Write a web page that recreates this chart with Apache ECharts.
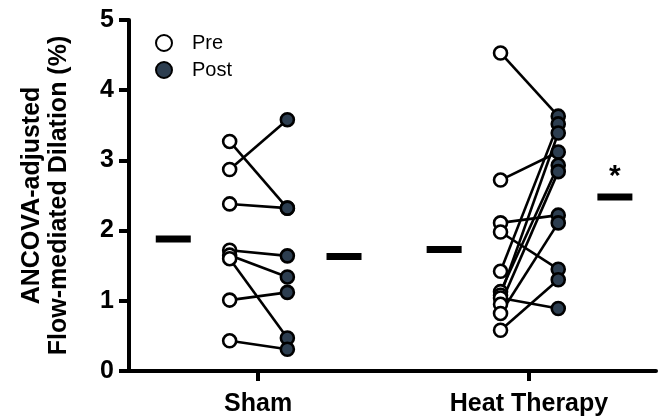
<!DOCTYPE html>
<html>
<head>
<meta charset="utf-8">
<script src="https://cdn.jsdelivr.net/npm/echarts@6/dist/echarts.min.js"></script>
<style>html,body{margin:0;padding:0;background:#fff}#c{width:658px;height:419px}</style>
</head>
<body>
<div id="c"></div>
<script>
// ---- data ----
const categories = ['Sham', 'Heat Therapy'];
const shamPre  = [3.27, 2.87, 2.38, 1.72, 1.65, 1.60, 1.01, 0.43];
const shamPost = [2.32, 3.58, 2.32, 1.64, 1.34, 0.47, 1.12, 0.31];
const heatPre  = [4.53, 2.72, 2.11, 1.98, 1.42, 1.13, 1.08, 1.04, 0.95, 0.82, 0.58];
const heatPost = [3.63, 3.12, 2.22, 1.45, 3.52, 2.93, 3.39, 0.89, 2.84, 2.11, 1.30];
const meanPre  = [1.88, 1.73];
const meanPost = [1.63, 2.48];
const significant = ['', '*'];
const yTicks = [0, 1, 2, 3, 4, 5];

// ---- layout (positions on the hidden x scale) ----
const groupCenter = [2.45, 7.59];
const OFF_PRE = -0.54, OFF_POST = 0.555, OFF_MEAN_PRE = -1.61, OFF_MEAN_POST = 1.63;

const FONT = 'Liberation Sans, Arial, sans-serif';
const POST_FILL = '#2d3e50';

const groups = [[shamPre, shamPost], [heatPre, heatPost]];
const series = [];

groups.forEach(([pre, post], g) => {
  pre.forEach((v, i) => {
    series.push({
      type: 'line', silent: true, symbol: 'none', z: 1,
      lineStyle: { color: '#000', width: 2.6 },
      data: [[groupCenter[g] + OFF_PRE, v], [groupCenter[g] + OFF_POST, post[i]]]
    });
  });
});

const preData = [], postData = [];
groups.forEach(([pre, post], g) => {
  pre.forEach(v => preData.push([groupCenter[g] + OFF_PRE, v]));
  post.forEach(v => postData.push([groupCenter[g] + OFF_POST, v]));
});

series.push({
  name: 'Pre', type: 'scatter', z: 3, symbol: 'circle', symbolSize: 13,
  itemStyle: { color: '#fff', borderColor: '#000', borderWidth: 2.6, opacity: 1 },
  data: preData
});
series.push({
  name: 'Post', type: 'scatter', z: 4, symbol: 'circle', symbolSize: 13,
  itemStyle: { color: POST_FILL, borderColor: '#000', borderWidth: 2.6, opacity: 1 },
  data: postData
});

const meanData = [];
categories.forEach((c, g) => {
  meanData.push({ value: [groupCenter[g] + OFF_MEAN_PRE, meanPre[g]] });
  meanData.push({
    value: [groupCenter[g] + OFF_MEAN_POST, meanPost[g]],
    label: { show: !!significant[g], formatter: significant[g], position: 'top', distance: 2,
             fontSize: 30, fontWeight: 'bold', color: '#000', fontFamily: FONT }
  });
});
series.push({
  name: 'Mean', type: 'scatter', z: 5, symbol: 'rect', symbolSize: [35, 7],
  itemStyle: { color: '#000', opacity: 1 }, data: meanData
});

function nearestCat(v) {
  let best = 0;
  groupCenter.forEach((c, i) => { if (Math.abs(c - v) < Math.abs(groupCenter[best] - v)) best = i; });
  return categories[best];
}

const chart = echarts.init(document.getElementById('c'));
chart.setOption({
  animation: false,
  backgroundColor: '#fff',
  grid: { left: 129, top: 20, right: 2, bottom: 48 },
  legend: {
    data: ['Pre', 'Post'], orient: 'vertical', left: 150, top: 28,
    itemWidth: 16, itemHeight: 16, itemGap: 7,
    textStyle: { fontSize: 20, color: '#000', fontFamily: FONT, padding: [0, 0, 0, 15] }
  },
  xAxis: {
    type: 'value', min: 0, max: 10,
    axisLine: { show: true, onZero: false, lineStyle: { color: '#000', width: 4 } },
    axisTick: { show: true, customValues: groupCenter, length: 10, lineStyle: { color: '#000', width: 4 } },
    axisLabel: { customValues: groupCenter, formatter: v => nearestCat(v), margin: 21,
                 fontSize: 25, fontWeight: 'bold', color: '#000', fontFamily: FONT },
    splitLine: { show: false }
  },
  yAxis: {
    type: 'value', min: yTicks[0], max: yTicks[yTicks.length - 1], interval: 1,
    name: 'ANCOVA-adjusted\nFlow-mediated Dilation (%)',
    nameLocation: 'middle', nameGap: 56, nameRotate: 90,
    nameTextStyle: { fontSize: 25, fontWeight: 'bold', color: '#000', fontFamily: FONT, lineHeight: 27 },
    axisLine: { show: true, lineStyle: { color: '#000', width: 4 } },
    axisTick: { show: true, length: 10, lineStyle: { color: '#000', width: 4 } },
    axisLabel: { margin: 15, fontSize: 25, fontWeight: 'bold', color: '#000', fontFamily: FONT },
    splitLine: { show: false }
  },
  series: series
});
</script>
</body>
</html>
